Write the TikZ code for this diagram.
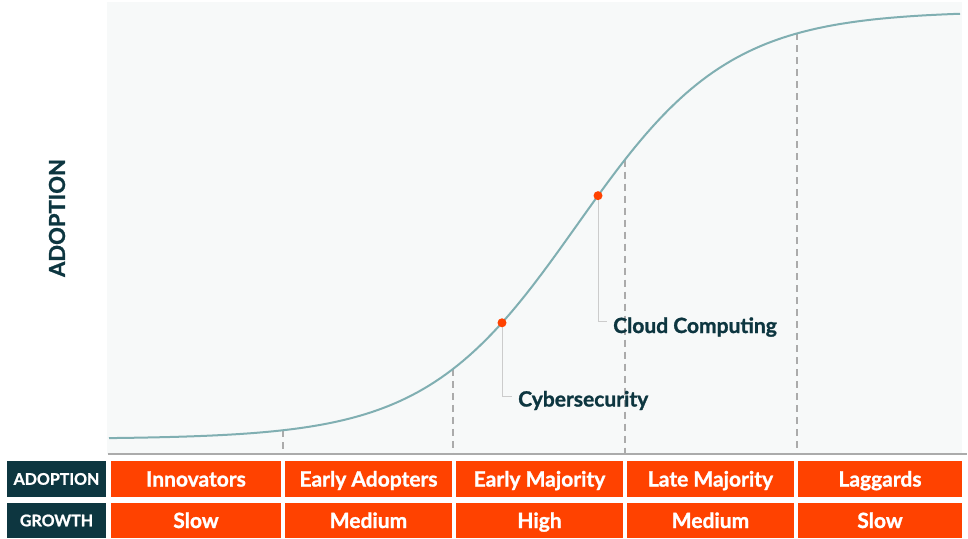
\documentclass[tikz,border=0pt]{standalone}
\usepackage{fontspec}
\setmainfont{Lato}[BoldFeatures={FakeBold=1.2}]
\definecolor{plotbg}{HTML}{F7F9F9}
\definecolor{curveline}{HTML}{80AFB2}
\definecolor{guide}{HTML}{ABABAB}
\definecolor{hot}{HTML}{FF4200}
\definecolor{ink}{HTML}{0D3640}
\definecolor{leadline}{HTML}{CCCCCC}
\tikzset{
  cell/.style={fill=hot, text=white, font=\bfseries\fontsize{21}{24}\selectfont,
    text height=15pt, text depth=0pt, inner sep=0pt},
  head/.style={fill=ink, text=white, font=\bfseries\fontsize{16}{19}\selectfont,
    text height=11.5pt, text depth=0pt, inner sep=0pt, minimum width=99pt},
  dot/.style={circle, fill=hot, inner sep=0pt, minimum size=9pt},
  tag/.style={text=ink, font=\bfseries\fontsize{21}{24}\selectfont,
    inner xsep=6pt, inner ysep=0pt, anchor=base west},
  leader/.style={draw=leadline, line width=0.9pt},
  stage/.style={draw=guide, line width=1.3pt, dash pattern=on 7pt off 5pt}
}
\begin{document}
\begin{tikzpicture}[x=1pt, y=-1pt,
    declare function={adopt(\t)=439-428/(1+exp(-(\t-577)/76));}]
		\useasboundingbox (0,0) rectangle (968,538);
		\fill[plotbg] (107,2) rectangle (962,454);
		% stage borders
		\draw[stage] (283,{adopt(283)}) -- (283,454);
		\draw[stage] (453,{adopt(453)}) -- (453,454);
		\draw[stage] (625,{adopt(625)}) -- (625,454);
		\draw[stage] (797,{adopt(797)}) -- (797,454);
		\draw[guide, line width=2.5pt] (108,454) -- (967,454);
		% adoption curve
		\draw[curveline, line width=2pt] plot[domain=109:960, samples=150] (\x,{adopt(\x)});
		\node[text=ink, font=\bfseries\fontsize{22}{24}\selectfont, rotate=90] (yaxis) at (57,218) {ADOPTION};
		% markers
		\coordinate (cyber) at (502,{adopt(502)});
		\coordinate (cloud) at (598,{adopt(598)});
		\node[tag] (cybertag) at (512,406.5) {Cybersecurity};
		\node[tag] (cloudtag) at (607,333) {Cloud Computing};
		\draw[leader] (cyber) |- ([yshift=10pt]cybertag.base west);
		\draw[leader] (cloud) |- ([yshift=12pt]cloudtag.base west);
		\node[dot] (cyberdot) at (cyber) {};
		\node[dot] (clouddot) at (cloud) {};
		% table
		\node[head, minimum height=36pt] (adoptionhead) at (56.5,479) {ADOPTION};
		\node[head, minimum height=35pt] (growthhead) at (56.5,520.5) {GROWTH};
		\node[cell, minimum width=170pt, minimum height=36pt] (innovators) at (196,479) {Innovators};
		\node[cell, minimum width=167pt, minimum height=36pt] (earlyadopters) at (368.5,479) {Early Adopters};
		\node[cell, minimum width=167pt, minimum height=36pt] (earlymajority) at (539.5,479) {Early Majority};
		\node[cell, minimum width=167pt, minimum height=36pt] (latemajority) at (710.5,479) {Late Majority};
		\node[cell, minimum width=164pt, minimum height=36pt] (laggards) at (880,479) {Laggards};
		\node[cell, minimum width=170pt, minimum height=35pt] (slowa) at (196,520.5) {Slow};
		\node[cell, minimum width=167pt, minimum height=35pt] (mediuma) at (368.5,520.5) {Medium};
		\node[cell, minimum width=167pt, minimum height=35pt] (high) at (539.5,520.5) {High};
		\node[cell, minimum width=167pt, minimum height=35pt] (mediumb) at (710.5,520.5) {Medium};
		\node[cell, minimum width=164pt, minimum height=35pt] (slowb) at (880,520.5) {Slow};
\end{tikzpicture}
\end{document}
